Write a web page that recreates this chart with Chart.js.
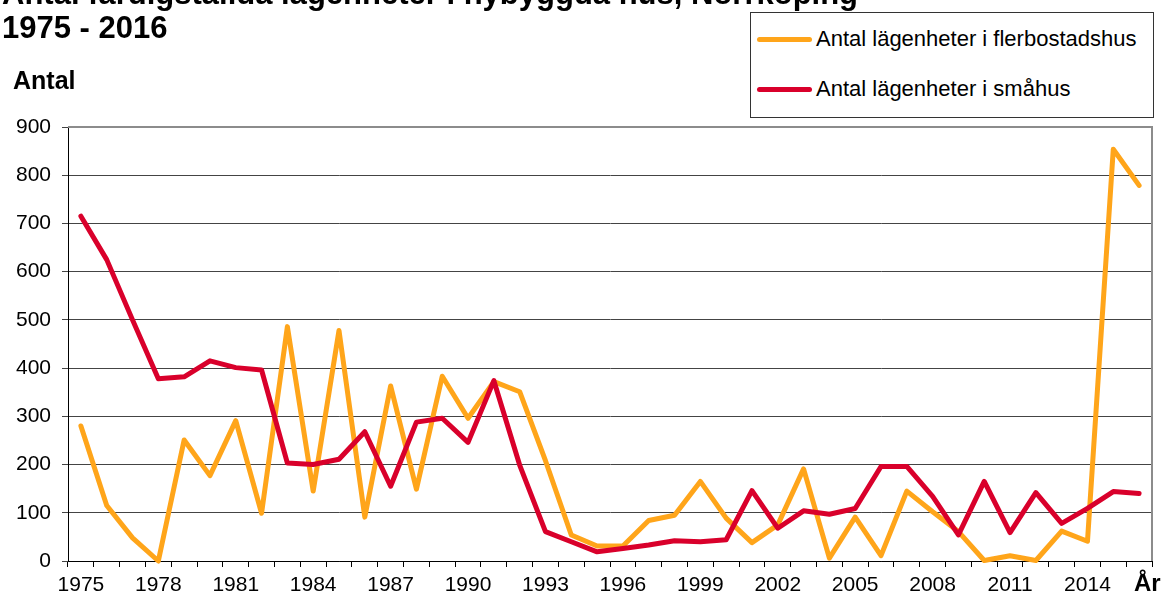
<!DOCTYPE html>
<html>
<head>
<meta charset="utf-8">
<script src="https://cdn.jsdelivr.net/npm/chart.js@4"></script>
<style>
body{margin:0;background:#fff;overflow:hidden;font-family:'Liberation Sans',Arial,sans-serif}
#wrap{position:relative;width:1165px;height:601px}
#legend{position:absolute;left:750px;top:12px;width:404px;height:106px;border:1px solid #333;background:#fff;box-sizing:border-box}
.item{position:absolute;left:6px;height:24px;display:flex;align-items:center;font-size:22px;color:#000;white-space:nowrap}
.item .line{display:inline-block;width:55px;height:5px;border-radius:3px;margin-right:4px}
</style>
</head>
<body>
<div id="wrap">
  <canvas id="chart" width="1165" height="601"></canvas>
  <div id="legend"></div>
</div>
<script>
const years = ['1975','1976','1977','1978','1979','1980','1981','1982','1983','1984',
    '1985','1986','1987','1988','1989','1990','1991','1992','1993','1994',
    '1995','1996','1997','1998','1999','2000','2001','2002','2003','2004',
    '2005','2006','2007','2008','2009','2010','2011','2012','2013','2014',
    '2015','2016'];

const flerbostadshus = [280,115,48,0,251,177,291,99,486,145,
    478,91,363,149,383,296,372,351,208,54,
    31,31,84,95,165,89,38,75,191,6,
    91,11,145,102,61,1,11,1,62,41,
    854,779];

const smahus = [715,625,500,378,382,415,401,396,203,200,
    211,268,155,288,296,246,374,199,61,40,
    19,26,33,42,40,44,146,68,104,97,
    109,196,196,134,54,165,59,142,78,109,
    144,140];

const yTicks = [0,100,200,300,400,500,600,700,800,900];

const seriesNames = ['Antal lägenheter i flerbostadshus', 'Antal lägenheter i småhus'];
const seriesColors = ['#FFA51A', '#D9002B'];

const FONT = "'Liberation Sans', Arial, sans-serif";

// titles, axis texts and frame
const extras = {
    id: 'extras',
    beforeDatasetsDraw(chart) {
        const ctx = chart.ctx, a = chart.chartArea;
        ctx.save();
        ctx.strokeStyle = '#8c8c8c';
        ctx.lineWidth = 2;
        ctx.beginPath();
        ctx.moveTo(a.left, a.top);
        ctx.lineTo(a.right, a.top);
        ctx.lineTo(a.right, a.bottom);
        ctx.stroke();
        ctx.restore();
    },
    afterDraw(chart) {
        const ctx = chart.ctx;
        ctx.save();
        ctx.fillStyle = '#000';
        ctx.textBaseline = 'alphabetic';
        ctx.font = 'bold 31px ' + FONT;
        ctx.fillText('Antal färdigställda lägenheter i nybyggda hus, Norrköping', 2, 4);
        ctx.fillText('1975 - 2016', 2, 38);
        ctx.font = 'bold 25px ' + FONT;
        ctx.fillText('Antal', 13, 89);
        ctx.font = 'bold 24px ' + FONT;
        ctx.fillText('År', 1134, 591);
        ctx.restore();
    }
};

new Chart(document.getElementById('chart').getContext('2d'), {
    type: 'line',
    data: {
        labels: years,
        datasets: [{
            label: seriesNames[0],
            data: flerbostadshus,
            borderColor: seriesColors[0],
            backgroundColor: seriesColors[0],
            order: 1
        }, {
            label: seriesNames[1],
            data: smahus,
            borderColor: seriesColors[1],
            backgroundColor: seriesColors[1],
            order: 0
        }]
    },
    options: {
        responsive: false,
        animation: false,
        layout: {padding: {top: 127, right: 13, left: 0, bottom: 0}},
        elements: {
            line: {borderWidth: 5, tension: 0, borderCapStyle: 'round', borderJoinStyle: 'round'},
            point: {radius: 0}
        },
        clip: false,
        plugins: {legend: {display: false}, title: {display: false}, tooltip: {enabled: false}},
        scales: {
            x: {
                offset: true,
                afterFit: s => { s.height = 40; },
                grid: {offset: true, drawOnChartArea: false, color: '#000', tickLength: 6},
                border: {color: '#000', width: 1},
                ticks: {
                    autoSkip: false, maxRotation: 0, padding: 6,
                    color: '#000', font: {family: FONT, size: 21},
                    callback: (v, i) => i % 3 === 0 ? years[i] : ''
                }
            },
            y: {
                min: 0, max: 900,
                afterFit: s => { s.width = 68; },
                afterBuildTicks: s => { s.ticks = yTicks.map(v => ({value: v})); },
                grid: {color: '#444', tickLength: 6},
                border: {color: '#000', width: 1},
                ticks: {padding: 11, color: '#000', font: {family: FONT, size: 21}}
            }
        }
    },
    plugins: [extras]
});

// legend box
const legend = document.getElementById('legend');
seriesNames.forEach((name, i) => {
    const item = document.createElement('div');
    item.className = 'item';
    item.style.top = (i === 0 ? 14 : 64) + 'px';
    item.innerHTML = '<span class="line" style="background:' + seriesColors[i] + '"></span>' + name;
    legend.appendChild(item);
});
</script>
</body>
</html>
